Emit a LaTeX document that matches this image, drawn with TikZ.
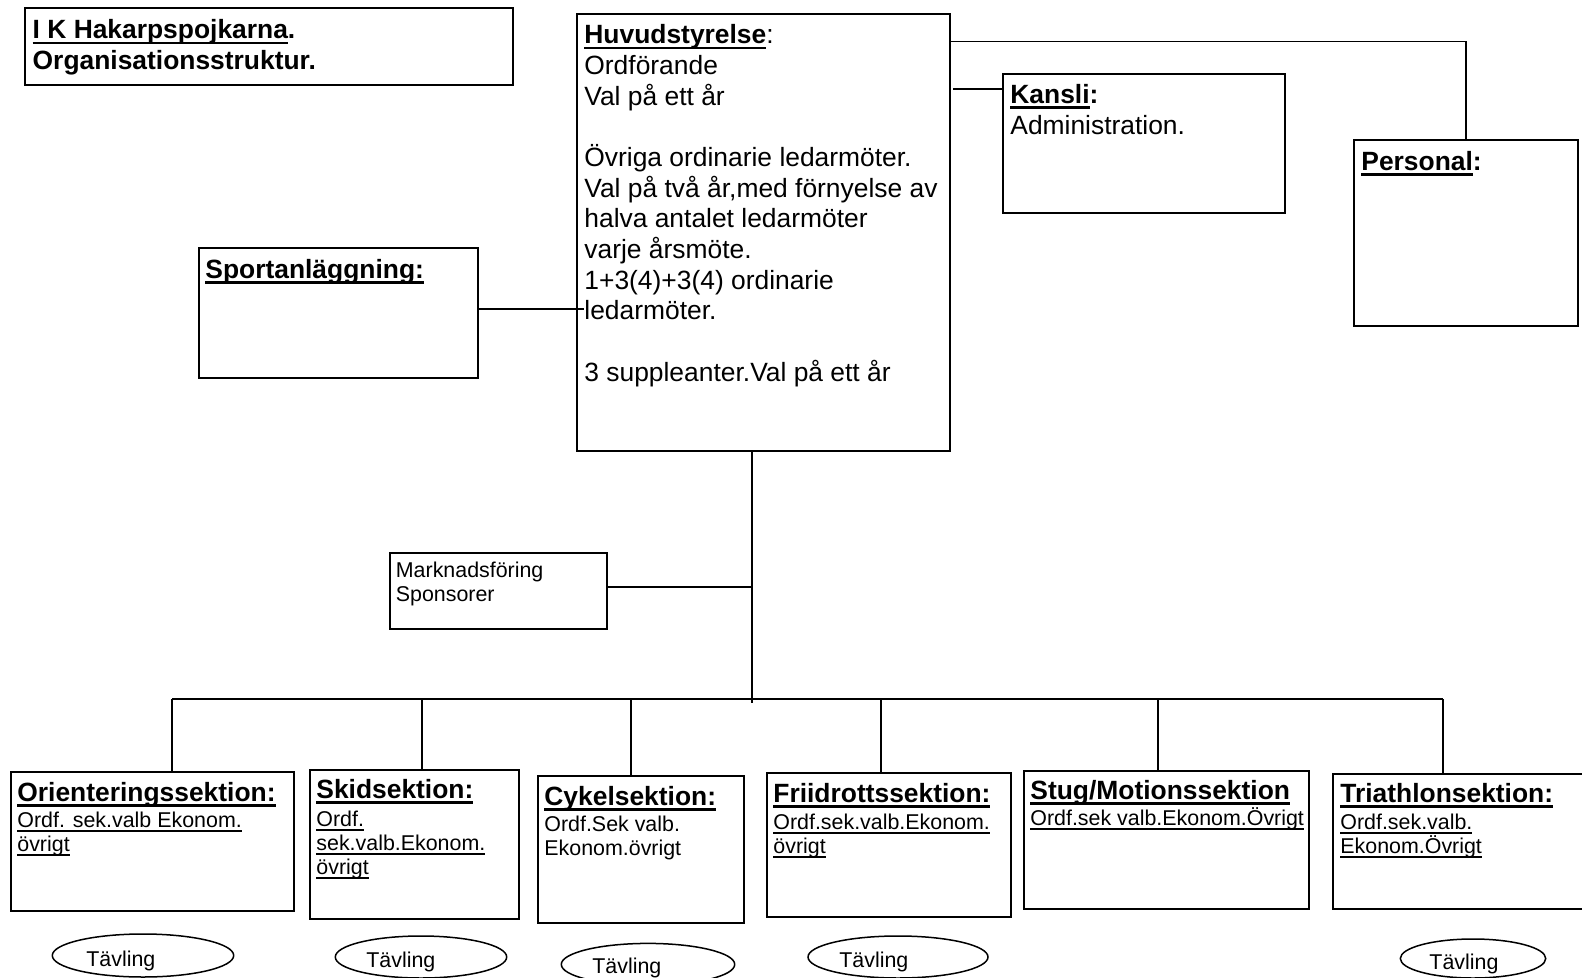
\documentclass[tikz,border=0pt]{standalone}
\usepackage{fontspec}
\setmainfont{Liberation Sans}
\usetikzlibrary{calc,shapes.geometric}
\newcommand{\myul}[1]{\setbox0=\hbox{#1}\rlap{\rule[-0.2em]{\wd0}{0.09em}}\box0}
\newcommand{\fl}{\rule{0pt}{1em}}
\newcommand{\pbox}[5]{\node[boxst, minimum width={(#4-#2)*0.5pt}, minimum height={(#5-#3)*0.5pt}] (#1) at ({(#2+#4)/2},{-(#3+#5)/2}) {};}
\newcommand{\pell}[5]{\node[ellst, minimum width={#4*1pt}, minimum height={#5*1pt}] (#1) at (#2,-#3) {};}
\begin{document}
\begin{tikzpicture}[x=0.5pt,y=0.5pt,
  boxst/.style={draw, line width=1pt, inner sep=0pt, outer sep=0pt},
  ellst/.style={draw, ellipse, line width=0.75pt, inner sep=0pt, outer sep=0pt},
  conn/.style={line width=0.75pt},
  bigtxt/.style={font=\fontsize{13.2}{15.33}\selectfont, inner sep=0pt, align=left, anchor=north west},
  smalltxt/.style={font=\fontsize{10.7}{12.1}\selectfont, inner sep=0pt, align=left, anchor=north west}]
\useasboundingbox (0,0) rectangle (1582,-978);
\clip (0,0) rectangle (1582,-978);

% boxes
\pbox{ttl}{25}{8}{513}{85}
\pbox{huv}{577}{14}{950}{451}
\pbox{kan}{1003}{74}{1285}{213}
\pbox{per}{1354}{140}{1578}{326}
\pbox{sport}{199}{248}{478}{378}
\pbox{mk}{390}{553}{607}{629}
\pbox{s1}{11}{772}{294}{911}
\pbox{s2}{310}{770}{519}{919}
\pbox{s3}{538}{776}{744}{923}
\pbox{s4}{767}{773}{1011}{917}
\pbox{s5}{1024}{771}{1309}{909}
\pbox{s6}{1333}{774}{1592}{909}

% ellipses
\pell{e1}{143}{955.5}{90.7}{21.5}
\pell{e2}{421}{957}{85.7}{21}
\pell{e3}{648}{964.4}{86.7}{21}
\pell{e4}{898}{957}{90}{21}
\pell{e5}{1473}{958.5}{72.7}{19.5}

% texts
\node[bigtxt] (ttlt) at (32.3,-12.1) {\fl\myul{\bfseries I K Hakarpspojkarna}\textbf{.}\\ \textbf{Organisationsstruktur.}};
\node[bigtxt] (huvt) at (584,-17.1) {\fl\myul{\bfseries Huvudstyrelse}:\\ Ordförande\\ Val på ett år\\[15.33pt] Övriga ordinarie ledarmöter.\\ Val på två år,med förnyelse av\\ halva antalet ledarmöter\\ varje årsmöte.\\ 1+3(4)+3(4) ordinarie\\ ledarmöter.\\[15.33pt] 3 suppleanter.Val på ett år};
\node[bigtxt] (kant) at (1010,-76.6) {\fl\textbf{\myul{Kansli}:}\\ Administration.};
\node[bigtxt] (pert) at (1361,-143.6) {\fl\textbf{\myul{Personal}:}};
\node[bigtxt] (sportt) at (205,-251.6) {\fl\textbf{\myul{Sportanläggning:}}};
\node[smalltxt] (mkt) at (395.5,-555.6) {\fl Marknadsföring\\ Sponsorer};

\node[bigtxt] (h1) at (17,-774.6) {\fl\textbf{\myul{Orienteringssektion:}}};
\node[smalltxt] (b1) at (17,-805.6) {\fl\myul{Ordf. sek.valb Ekonom.}\\ \myul{övrigt}};
\node[bigtxt] (h2) at (316,-771.6) {\fl\textbf{\myul{Skidsektion:}}};
\node[smalltxt] (b2) at (316,-804.6) {\fl\myul{Ordf.}\\ \myul{sek.valb.Ekonom.}\\ \myul{övrigt}};
\node[bigtxt] (h3) at (544,-778.6) {\fl\textbf{\myul{Cykelsektion:}}};
\node[smalltxt] (b3) at (544,-809.6) {\fl Ordf.Sek valb.\\ Ekonom.övrigt};
\node[bigtxt] (h4) at (773,-775.6) {\fl\textbf{\myul{Friidrottssektion:}}};
\node[smalltxt] (b4) at (773,-807.6) {\fl\myul{Ordf.sek.valb.Ekonom.}\\ \myul{övrigt}};
\node[bigtxt] (h5) at (1030,-772.6) {\fl\textbf{\myul{Stug/Motionssektion}}};
\node[smalltxt] (b5) at (1030,-803.6) {\fl\myul{Ordf.sek valb.Ekonom.Övrigt}};
\node[bigtxt] (h6) at (1340,-775.6) {\fl\textbf{\myul{Triathlonsektion:}}};
\node[smalltxt] (b6) at (1340,-807.6) {\fl\myul{Ordf.sek.valb.}\\ \myul{Ekonom.Övrigt}};

\node[smalltxt, anchor=base west] (t1) at (86,-966) {Tävling};
\node[smalltxt, anchor=base west] (t2) at (366,-967) {Tävling};
\node[smalltxt, anchor=base west] (t3) at (592,-973) {Tävling};
\node[smalltxt, anchor=base west] (t4) at (839,-967) {Tävling};
\node[smalltxt, anchor=base west] (t5) at (1429,-969) {Tävling};

% connectors
\draw[conn] ($(huv.north east)+(0,-27.4)$) -| (per.north);
\draw[conn] ($(huv.north east |- kan.north west)+(3,-15)$) -- ($(kan.north west)+(0,-15)$);
\draw[conn] ($(sport.east)+(0,4)$) -- ($(sport.east -| huv.west)+(7,4)$);
\coordinate (tr) at ($(huv.south)+(-11.5,0)$);
\coordinate (trb) at (tr |- 0,-703);
\draw[conn] (tr) -- (trb);
\draw[conn] ($(mk.east)+(0,4)$) -- ($(mk.east -| tr)+(0,4)$);
\coordinate (d1) at (172,-699);
\coordinate (d2) at (422,-699);
\coordinate (d3) at (631,-699);
\coordinate (d4) at (881,-699);
\coordinate (d5) at (1158,-699);
\coordinate (d6) at (1443,-699);
\draw[conn] (d1) -- (d6);
\draw[conn] (d1) -- (d1 |- s1.north);
\draw[conn] (d2) -- (d2 |- s2.north);
\draw[conn] (d3) -- (d3 |- s3.north);
\draw[conn] (d4) -- (d4 |- s4.north);
\draw[conn] (d5) -- (d5 |- s5.north);
\draw[conn] (d6) -- (d6 |- s6.north);
\end{tikzpicture}
\end{document}
